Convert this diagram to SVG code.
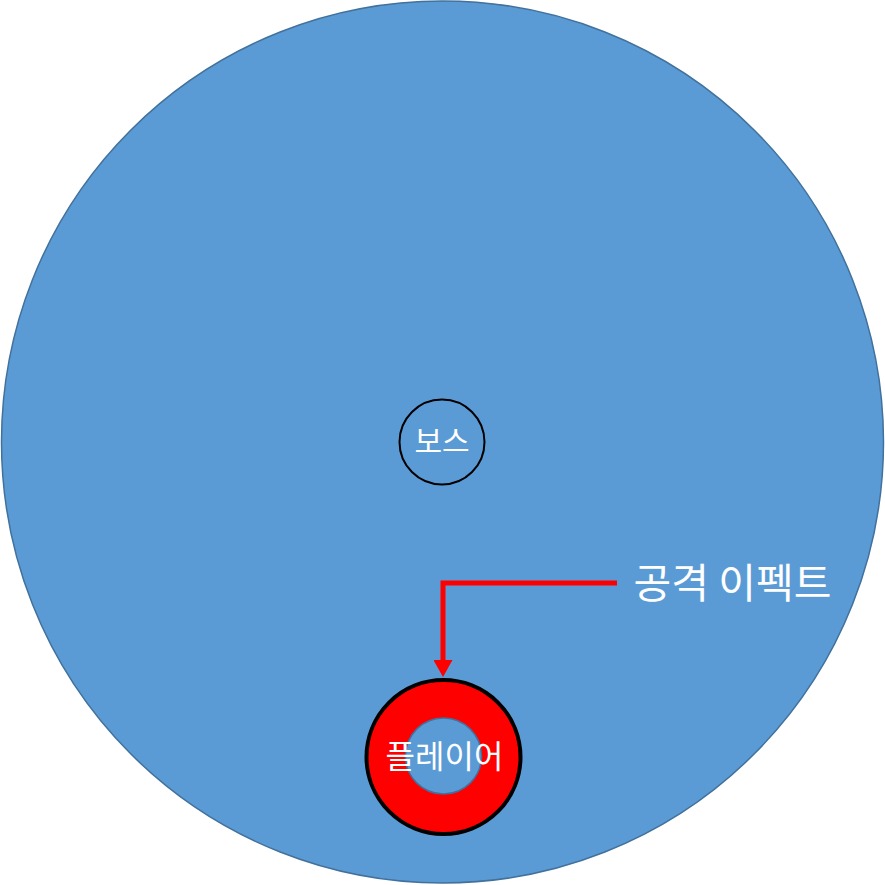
<svg xmlns="http://www.w3.org/2000/svg" width="885" height="885" viewBox="0 0 885 885">
<style>
.lbl{font-family:"Noto Sans CJK KR","Noto Sans",sans-serif;fill:#ffffff;text-anchor:middle}
</style>
<defs>
<marker id="ah" markerWidth="18" markerHeight="19" refX="0" refY="9.5" orient="auto" markerUnits="userSpaceOnUse">
<path d="M0,0 L17,9.5 L0,19 Z" fill="#ff0000"/>
</marker>
</defs>
<rect width="885" height="885" fill="#ffffff"/>
<g id="arena">
<circle cx="442.5" cy="442" r="441" fill="#5b9bd5" stroke="#41719c" stroke-width="1.5"/>
</g>
<g id="boss">
<circle cx="442" cy="442" r="42.5" fill="none" stroke="#000000" stroke-width="2"/>
<text class="lbl" x="442" y="452" font-size="30">보스</text>
</g>
<g id="player">
<circle cx="443.5" cy="757" r="77" fill="#ff0000" stroke="#000000" stroke-width="4"/>
<circle cx="443.5" cy="756" r="38" fill="#5b9bd5" stroke="#41719c" stroke-width="1.5"/>
<text class="lbl" x="444.5" y="768" font-size="32">플레이어</text>
</g>
<g id="connectors">
<path d="M617,583 H443 V660" fill="none" stroke="#ff0000" stroke-width="5" marker-end="url(#ah)"/>
</g>
<g id="effect-label">
<text class="lbl" x="732.5" y="598" font-size="41">공격 이펙트</text>
</g>
</svg>
